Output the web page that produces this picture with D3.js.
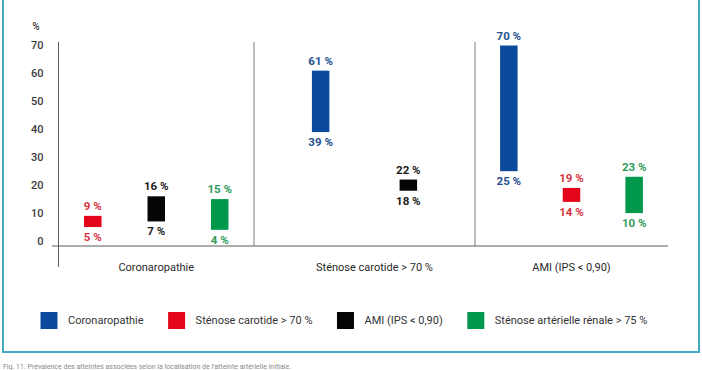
<!DOCTYPE html>
<html>
<head>
<meta charset="utf-8">
<script src="https://cdn.jsdelivr.net/npm/d3@7"></script>
<style>
  html, body { margin: 0; padding: 0; background: #fff; }
  svg { display: block; font-family: Roboto, "Noto Sans", sans-serif; }
</style>
</head>
<body>
<script>

// groups on the x axis, series in the legend
const groups = ["Coronaropathie", "Sténose carotide > 70 %", "AMI (IPS < 0,90)"];
const series = ["Coronaropathie", "Sténose carotide > 70 %", "AMI (IPS < 0,90)", "Sténose artérielle rénale > 75 %"];

// low / high end of each range, by group then series (null = no bar)
const lowValues  = [[null, 5, 7, 4], [39, null, 18, null], [25, 14, null, 10]];
const highValues = [[null, 9, 16, 15], [61, null, 22, null], [70, 19, null, 23]];

const yTicks = [0, 10, 20, 30, 40, 50, 60, 70];
const caption = "Fig. 11. Prévalence des atteintes associées selon la localisation de l'atteinte artérielle initiale.";

const barColors  = ["#0b4a9c", "#e3061a", "#050505", "#00984a"];
const textColors = ["#24508f", "#d6333f", "#1b1b1b", "#2f9b5a"];

const chartWidth = 702,
      chartHeight = 370;

// plot frame
const axisX = 58.5, baseY = 246, plotRight = 668;
const groupEdges = [axisX, 254, 475, plotRight];

const svg = d3.select("body").append("svg")
    .attr("width", chartWidth)
    .attr("height", chartHeight);

// teal frame round chart + legend
svg.append("rect")
    .attr("x", 3).attr("y", -10)
    .attr("width", 696).attr("height", 362)
    .attr("fill", "none")
    .attr("stroke", "#45a9c6")
    .attr("stroke-width", 2);

const y = d3.scaleLinear()
    .domain([0, 70])
    .range([241, 45.5]);

// y tick labels
svg.append("g")
    .selectAll("text")
    .data(yTicks)
    .join("text")
    .attr("x", 43.5)
    .attr("y", d => y(d))
    .attr("dy", "0.35em")
    .attr("text-anchor", "end")
    .attr("font-size", 11)
    .attr("font-weight", 500)
    .attr("fill", "#3a3a3a")
    .text(d => d);

svg.append("text")
    .attr("x", 36).attr("y", 26)
    .attr("dy", "0.35em")
    .attr("text-anchor", "middle")
    .attr("font-size", 10)
    .attr("font-weight", 500)
    .attr("fill", "#3a3a3a")
    .text("%");

// axis lines
const lineColor = "#5a5a5a";
svg.append("line")
    .attr("x1", axisX).attr("x2", axisX)
    .attr("y1", 42).attr("y2", 267)
    .attr("stroke", lineColor);
svg.append("line")
    .attr("x1", 52).attr("x2", plotRight)
    .attr("y1", baseY).attr("y2", baseY)
    .attr("stroke", lineColor);
svg.append("g")
    .selectAll("line")
    .data(groupEdges.slice(1, 3))
    .join("line")
    .attr("x1", d => d).attr("x2", d => d)
    .attr("y1", 42).attr("y2", baseY)
    .attr("stroke", lineColor)
    .attr("stroke-width", 0.8);

// group labels
svg.append("g")
    .selectAll("text")
    .data(groups)
    .join("text")
    .attr("x", (d, i) => (groupEdges[i] + groupEdges[i + 1]) / 2 + (i === 1 ? 10 : 0))
    .attr("y", 271)
    .attr("text-anchor", "middle")
    .attr("font-size", 11)
    .attr("fill", "#2a2a2a")
    .text(d => d);

// bars
const barWidth = 17.5;
const bars = [];
groups.forEach((g, gi) => {
  const present = series.filter((s, si) => lowValues[gi][si] !== null);
  const x = d3.scalePoint()
      .domain(present)
      .range([groupEdges[gi], groupEdges[gi + 1]])
      .padding(present.length === 2 ? 0.76 : 0.54);
  present.forEach(s => {
    const si = series.indexOf(s);
    bars.push({ gi, si, cx: x(s), lo: lowValues[gi][si], hi: highValues[gi][si] });
  });
});

const barG = svg.append("g");
barG.selectAll("rect")
    .data(bars)
    .join("rect")
    .attr("x", d => d.cx - barWidth / 2)
    .attr("width", barWidth)
    .attr("y", d => y(d.hi))
    .attr("height", d => y(d.lo) - y(d.hi))
    .attr("fill", d => barColors[d.si]);

barG.selectAll("text.hi")
    .data(bars)
    .join("text")
    .attr("class", "hi")
    .attr("x", d => d.cx)
    .attr("y", d => y(d.hi) - 6)
    .attr("text-anchor", "middle")
    .attr("font-size", 11.5)
    .attr("font-weight", "bold")
    .attr("fill", d => textColors[d.si])
    .text(d => d.hi + " %");

barG.selectAll("text.lo")
    .data(bars)
    .join("text")
    .attr("class", "lo")
    .attr("x", d => d.cx)
    .attr("y", d => y(d.lo) + 14)
    .attr("text-anchor", "middle")
    .attr("font-size", 11.5)
    .attr("font-weight", "bold")
    .attr("fill", d => textColors[d.si])
    .text(d => d.lo + " %");

// legend
const legend = svg.append("g");
let lx = 40.5;
series.forEach((s, i) => {
  legend.append("rect")
      .attr("x", lx).attr("y", 312)
      .attr("width", 17).attr("height", 17)
      .attr("fill", barColors[i]);
  const t = legend.append("text")
      .attr("x", lx + 27.5).attr("y", 320.5)
      .attr("dy", "0.35em")
      .attr("font-size", 11)
      .attr("fill", "#333")
      .text(s);
  lx += 27.5 + t.node().getComputedTextLength() + 24.5;
});

// caption under the frame, small so it fits in the picture
svg.append("text")
    .attr("x", 3).attr("y", 368.5)
    .attr("font-size", 7)
    .attr("fill", "#8a8a8a")
    .text(caption);

</script>
</body>
</html>
